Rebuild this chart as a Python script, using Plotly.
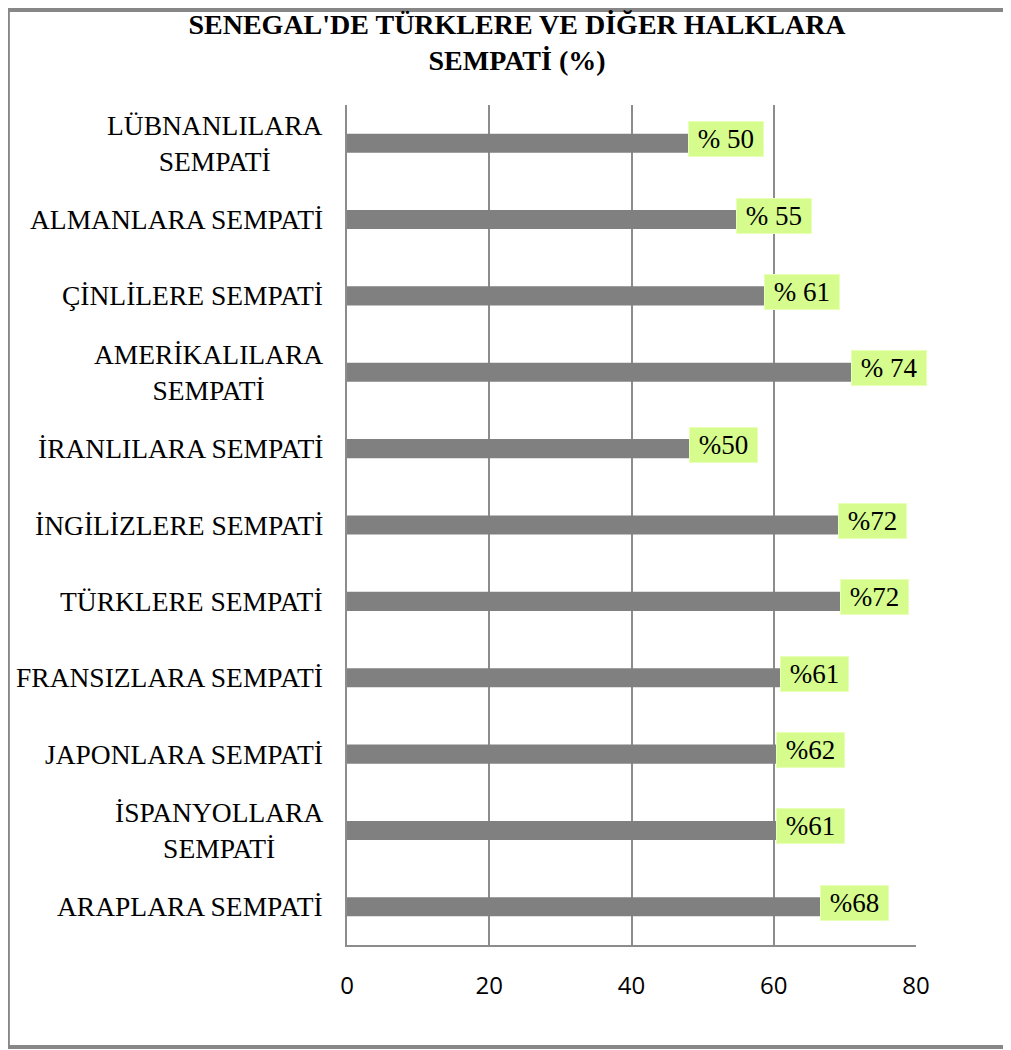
import plotly.graph_objects as go

# veriler (yukaridan asagiya)
categories = [
    "LÜBNANLILARA<br>SEMPATİ",
    "ALMANLARA SEMPATİ",
    "ÇİNLİLERE SEMPATİ",
    "AMERİKALILARA<br>SEMPATİ",
    "İRANLILARA SEMPATİ",
    "İNGİLİZLERE SEMPATİ",
    "TÜRKLERE SEMPATİ",
    "FRANSIZLARA SEMPATİ",
    "JAPONLARA SEMPATİ",
    "İSPANYOLLARA<br>SEMPATİ",
    "ARAPLARA SEMPATİ",
]
values = [50, 55, 61, 74, 50, 72, 72, 61, 62, 61, 68]
label_texts = ["% 50", "% 55", "% 61", "% 74", "%50", "%72", "%72", "%61", "%62", "%61", "%68"]
tick_vals = [0, 20, 40, 60, 80]

# etiket kutularinin cubuk ucuna gore kaymasi (elle tasinmis etiketler)
label_shift = [2.1, 0.3, 2.4, 3.1, 1.9, 3.0, 2.7, 0.1, 1.7, 0.7, 1.5]

grid_col = "#8c8c8c"
serif = "Liberation Serif, Times New Roman, serif"

fig = go.Figure(
    go.Bar(
        x=values,
        y=categories,
        orientation="h",
        marker=dict(color="#808080", line=dict(width=0)),
        hoverinfo="x+y",
    )
)

# kategori etiketleri (ortalanmis cok satirli)
for cat in categories:
    fig.add_annotation(
        x=-0.0387, xref="paper", y=cat, yref="y",
        text=cat, showarrow=False, xanchor="right", align="center",
        font=dict(family=serif, size=27.5, color="#000000"),
    )

# deger etiketleri - acik yesil kutular
for cat, v, t, s in zip(categories, values, label_texts, label_shift):
    fig.add_annotation(
        x=v - s, y=cat, xref="x", yref="y",
        text="&nbsp;" + t + "&nbsp;", showarrow=False, xanchor="left", yshift=4,
        font=dict(family=serif, size=27, color="#000000"),
        bgcolor="#d6fc8e", bordercolor="#e8ffb8", borderwidth=1, borderpad=2,
    )

# dis cerceve: sol, ust, alt kenarlar (sag kenar gorunmuyor)
frame = dict(color="#878787", width=4)
x_l, x_r, y_b, y_t = -0.596, 1.25, -0.1214, 1.1131
fig.add_shape(type="line", xref="paper", yref="paper", x0=x_l, x1=x_l, y0=y_b, y1=y_t, line=frame)
fig.add_shape(type="line", xref="paper", yref="paper", x0=x_l, x1=x_r, y0=y_t, y1=y_t, line=frame)
fig.add_shape(type="line", xref="paper", yref="paper", x0=x_l, x1=x_r, y0=y_b, y1=y_b, line=frame)

fig.update_layout(
    width=1011, height=1050,
    margin=dict(l=339, r=103, t=97, b=113),
    paper_bgcolor="white", plot_bgcolor="white",
    showlegend=False,
    bargap=0.75,
    title=dict(
        text="<b>SENEGAL'DE TÜRKLERE VE DİĞER HALKLARA<br>SEMPATİ (%)</b>",
        x=0.5035, xanchor="center", y=0.9752, yanchor="middle", yref="container",
        font=dict(family=serif, size=28, color="#000000"),
    ),
    xaxis=dict(
        range=[0, 80], tickvals=tick_vals, showgrid=True, gridcolor=grid_col, gridwidth=2,
        zeroline=False, showline=True, linecolor=grid_col, linewidth=2,
        ticks="", ticklabelstandoff=18,
        tickfont=dict(family="Open Sans, sans-serif", size=24, color="#000000"),
    ),
    yaxis=dict(
        autorange="reversed", showticklabels=False, showgrid=False,
        showline=True, linecolor=grid_col, linewidth=2, ticks="",
    ),
)

fig.write_html("out.html")
